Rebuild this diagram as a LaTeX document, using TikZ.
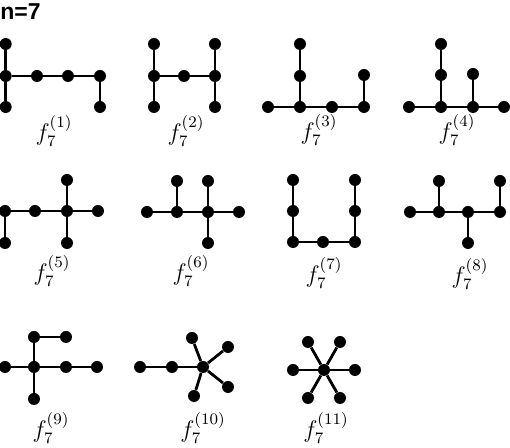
\documentclass[tikz,border=0pt]{standalone}
\usepackage{fontspec}
\newfontfamily\headfont{Liberation Sans}
\usepackage{amsmath}

\tikzset{
  dot/.style={circle, fill=black, inner sep=0pt, minimum size=6pt},
  edge/.style={line width=1.4pt},
  lbl/.style={font=\fontsize{12}{14}\selectfont, inner sep=0pt}
}

\begin{document}
\begin{tikzpicture}[x=0.5pt, y=-0.5pt]
\useasboundingbox (0,0) rectangle (510,448);
\node[anchor=north west, inner sep=0pt, font=\headfont\bfseries\fontsize{11.5}{13}\selectfont] (title) at (0,3) {n=7};

% first row
\foreach \n/\x/\y in {t/5.7/44, m/5.7/76, b/5.7/107, c/37/76, d/68/76, e/100/76, f/100/107}
  \node[dot] (ga\n) at (\x,\y) {};
\draw[edge] (gat) -- (gam) -- (gab);
\draw[edge] (gam) -- (gac) -- (gad) -- (gae) -- (gaf);

\foreach \n/\x/\y in {lt/154/44, lm/154/76, lb/154/107, c/184/76, rt/215/44, rm/215/76, rb/215/107}
  \node[dot] (gb\n) at (\x,\y) {};
\draw[edge] (gblt) -- (gblm) -- (gblb);
\draw[edge] (gbrt) -- (gbrm) -- (gbrb);
\draw[edge] (gblm) -- (gbc) -- (gbrm);

\foreach \n/\x/\y in {a/268/107, b/300/107, c/332/107, d/364/107, e/300/76, f/300/44, g/364/75}
  \node[dot] (gc\n) at (\x,\y) {};
\draw[edge] (gca) -- (gcb) -- (gcc) -- (gcd);
\draw[edge] (gcb) -- (gce) -- (gcf);
\draw[edge] (gcd) -- (gcg);

\foreach \n/\x/\y in {a/409/107, b/441/107, c/473/107, d/504/107, e/441/75, f/441/44, g/473/74}
  \node[dot] (gd\n) at (\x,\y) {};
\draw[edge] (gda) -- (gdb) -- (gdc) -- (gdd);
\draw[edge] (gdb) -- (gde) -- (gdf);
\draw[edge] (gdc) -- (gdg);

% second row
\foreach \n/\x/\y in {a/5/211, b/35/211, c/67/211, d/98/211, e/67/180, f/67/243, g/5/243}
  \node[dot] (ge\n) at (\x,\y) {};
\draw[edge] (gea) -- (geb) -- (gec) -- (ged);
\draw[edge] (gee) -- (gec) -- (gef);
\draw[edge] (gea) -- (geg);

\foreach \n/\x/\y in {a/147/212, b/177/212, c/208/212, d/239/212, e/177/181, f/208/181, g/208/243}
  \node[dot] (gf\n) at (\x,\y) {};
\draw[edge] (gfa) -- (gfb) -- (gfc) -- (gfd);
\draw[edge] (gfb) -- (gfe);
\draw[edge] (gff) -- (gfc) -- (gfg);

\foreach \n/\x/\y in {lt/293/180, lm/293/211, lb/293/242, c/323/242, rt/355/180, rm/355/211, rb/355/242}
  \node[dot] (gg\n) at (\x,\y) {};
\draw[edge] (gglt) -- (gglm) -- (gglb) -- (ggc) -- (ggrb) -- (ggrm) -- (ggrt);

\foreach \n/\x/\y in {a/410/212, b/439/212, c/468/212, d/500/212, e/439/181, f/468/243, g/500/181}
  \node[dot] (gh\n) at (\x,\y) {};
\draw[edge] (gha) -- (ghb) -- (ghc) -- (ghd);
\draw[edge] (ghb) -- (ghe);
\draw[edge] (ghc) -- (ghf);
\draw[edge] (ghd) -- (ghg);

% third row
\foreach \n/\x/\y in {a/5/367, b/34/367, c/66/367, d/97/367, e/34/337, f/66/337, g/34/399}
  \node[dot] (gi\n) at (\x,\y) {};
\draw[edge] (gia) -- (gib) -- (gic) -- (gid);
\draw[edge] (gig) -- (gib) -- (gie) -- (gif);

\foreach \n/\x/\y in {a/140/367, b/172/367, c/203/367, d/192/338, e/228/347, f/228/387, g/194/396}
  \node[dot] (gj\n) at (\x,\y) {};
\draw[edge] (gja) -- (gjb) -- (gjc);
\foreach \n in {d,e,f,g}
  \draw[edge] (gjc) -- (gj\n);

\foreach \n/\x/\y in {c/324/370, a/293/370, b/355/370, d/308/342, e/340/342, f/308/398, g/340/398}
  \node[dot] (gk\n) at (\x,\y) {};
\foreach \n in {a,b,d,e,f,g}
  \draw[edge] (gkc) -- (gk\n);

% labels
\foreach \k/\x/\y in {1/54/131, 2/186/131, 3/319/130, 4/457/130,
    5/52/271, 6/191/271, 7/324/273, 8/470/274,
    9/51/428, 10/203/428, 11/326/428}
  \node[lbl] (lab\k) at (\x,\y) {$f_7^{(\k)}$};
\end{tikzpicture}
\end{document}
